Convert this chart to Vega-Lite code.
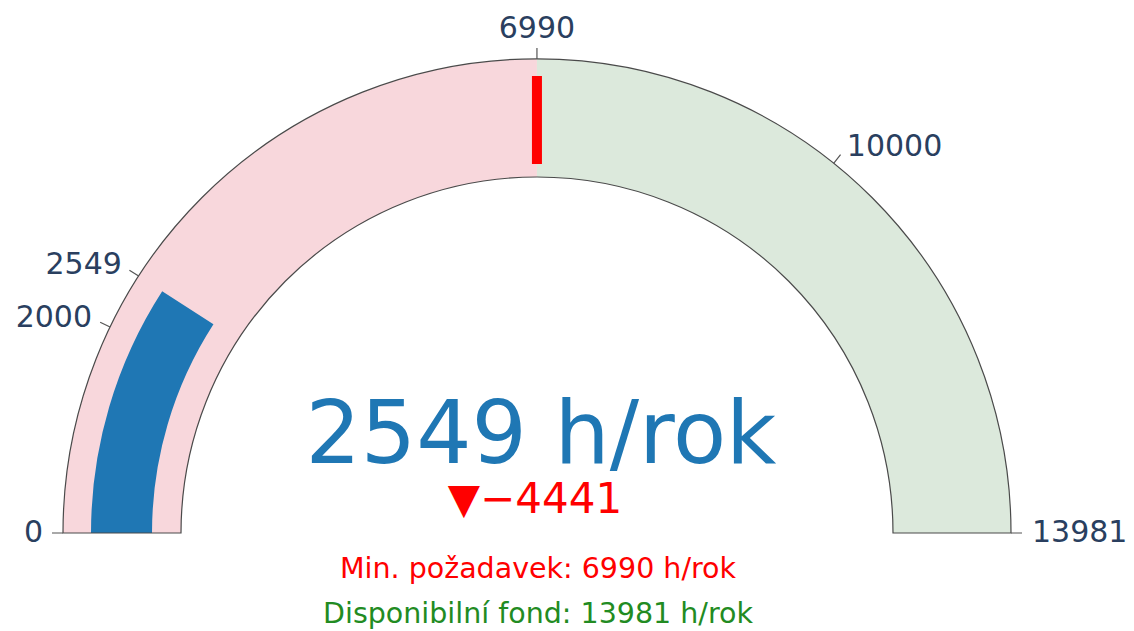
{
  "$schema": "https://vega.github.io/schema/vega-lite/v6.json",
  "width": 1134,
  "height": 631,
  "padding": 0,
  "autosize": {"type": "none"},
  "background": "white",
  "config": {"view": {"stroke": null}, "text": {"font": "DejaVu Sans"}},
  "datasets": {
    "steps": [
      {"from": 0, "to": 6990, "zone": "pod minimem"},
      {"from": 6990, "to": 13981, "zone": "nad minimem"}
    ],
    "range": [{"from": 0, "to": 13981}],
    "bar": [{"from": 0, "to": 2549}],
    "threshold": [{"value": 6990}],
    "ticks": [
      {"value": 0}, {"value": 2000}, {"value": 2549},
      {"value": 6990}, {"value": 10000}, {"value": 13981}
    ],
    "summary": [
      {"kind": "value", "label": "2549 h/rok"},
      {"kind": "delta", "label": "▼−4441"},
      {"kind": "min", "label": "Min. požadavek: 6990 h/rok"},
      {"kind": "fond", "label": "Disponibilní fond: 13981 h/rok"}
    ]
  },
  "encoding": {
    "x": {"datum": 0, "type": "quantitative", "scale": {"domain": [-537, 597], "nice": false, "zero": false}, "axis": null},
    "y": {"datum": 0, "type": "quantitative", "scale": {"domain": [-98, 533], "nice": false, "zero": false}, "axis": null}
  },
  "layer": [
    {
      "data": {"name": "steps"},
      "mark": {"type": "arc", "radius": 474, "radius2": 356},
      "encoding": {
        "theta": {"field": "from", "type": "quantitative", "stack": null, "scale": {"type": "linear", "domain": [0, 13981], "range": [-1.5707963267948966, 1.5707963267948966], "zero": false, "nice": false}},
        "theta2": {"field": "to"},
        "color": {"field": "zone", "type": "nominal", "scale": {"domain": ["pod minimem", "nad minimem"], "range": ["#f8d7dc", "#dce9dc"]}, "legend": null}
      }
    },
    {
      "data": {"name": "bar"},
      "mark": {"type": "arc", "radius": 446, "radius2": 385, "color": "#1f77b4"},
      "encoding": {
        "theta": {"field": "from", "type": "quantitative", "stack": null, "scale": {"type": "linear", "domain": [0, 13981], "range": [-1.5707963267948966, 1.5707963267948966], "zero": false, "nice": false}},
        "theta2": {"field": "to"}
      }
    },
    {
      "data": {"name": "range"},
      "mark": {"type": "arc", "radius": 474, "radius2": 356, "fillOpacity": 0, "stroke": "#4a4a4a", "strokeWidth": 1.2},
      "encoding": {
        "theta": {"field": "from", "type": "quantitative", "stack": null, "scale": {"type": "linear", "domain": [0, 13981], "range": [-1.5707963267948966, 1.5707963267948966], "zero": false, "nice": false}},
        "theta2": {"field": "to"}
      }
    },
    {
      "data": {"name": "threshold"},
      "mark": {"type": "arc", "radius": 457, "radius2": 369, "fillOpacity": 0, "stroke": "#ff0000", "strokeWidth": 10},
      "encoding": {
        "theta": {"field": "value", "type": "quantitative", "stack": null, "scale": {"type": "linear", "domain": [0, 13981], "range": [-1.5707963267948966, 1.5707963267948966], "zero": false, "nice": false}},
        "theta2": {"field": "value"}
      }
    },
    {
      "data": {"name": "ticks"},
      "mark": {"type": "arc", "radius": 485, "radius2": 474, "fillOpacity": 0, "stroke": "#555555", "strokeWidth": 1.2},
      "encoding": {
        "theta": {"field": "value", "type": "quantitative", "stack": null, "scale": {"type": "linear", "domain": [0, 13981], "range": [-1.5707963267948966, 1.5707963267948966], "zero": false, "nice": false}},
        "theta2": {"field": "value"}
      }
    },
    {
      "data": {"name": "ticks"},
      "transform": [{"filter": "datum.value < 6000"}],
      "mark": {"type": "text", "radius": 494, "align": "right", "baseline": "middle", "fontSize": 30, "color": "#2a3f5f"},
      "encoding": {
        "theta": {"field": "value", "type": "quantitative", "stack": null, "scale": {"type": "linear", "domain": [0, 13981], "range": [-1.5707963267948966, 1.5707963267948966], "zero": false, "nice": false}},
        "text": {"field": "value", "type": "quantitative", "format": "d"}
      }
    },
    {
      "data": {"name": "ticks"},
      "transform": [{"filter": "datum.value == 6990"}],
      "mark": {"type": "text", "radius": 495, "align": "center", "baseline": "alphabetic", "fontSize": 30, "color": "#2a3f5f"},
      "encoding": {
        "theta": {"field": "value", "type": "quantitative", "stack": null, "scale": {"type": "linear", "domain": [0, 13981], "range": [-1.5707963267948966, 1.5707963267948966], "zero": false, "nice": false}},
        "text": {"field": "value", "type": "quantitative", "format": "d"}
      }
    },
    {
      "data": {"name": "ticks"},
      "transform": [{"filter": "datum.value > 7000"}],
      "mark": {"type": "text", "radius": 495, "align": "left", "baseline": "middle", "fontSize": 30, "color": "#2a3f5f"},
      "encoding": {
        "theta": {"field": "value", "type": "quantitative", "stack": null, "scale": {"type": "linear", "domain": [0, 13981], "range": [-1.5707963267948966, 1.5707963267948966], "zero": false, "nice": false}},
        "text": {"field": "value", "type": "quantitative", "format": "d"}
      }
    },
    {
      "data": {"name": "summary"},
      "transform": [{"filter": "datum.kind == 'value'"}],
      "mark": {"type": "text", "align": "center", "baseline": "alphabetic", "fontSize": 87, "dx": 4, "dy": -70, "color": "#1f77b4"},
      "encoding": {"text": {"field": "label"}}
    },
    {
      "data": {"name": "summary"},
      "transform": [{"filter": "datum.kind == 'delta'"}],
      "mark": {"type": "text", "align": "center", "baseline": "alphabetic", "fontSize": 42, "dx": -2, "dy": -20, "color": "#ff0000"},
      "encoding": {"text": {"field": "label"}}
    },
    {
      "data": {"name": "summary"},
      "transform": [{"filter": "datum.kind == 'min'"}],
      "mark": {"type": "text", "align": "center", "baseline": "alphabetic", "fontSize": 28.5, "dx": 1, "dy": 45, "color": "#ff0000"},
      "encoding": {"text": {"field": "label"}}
    },
    {
      "data": {"name": "summary"},
      "transform": [{"filter": "datum.kind == 'fond'"}],
      "mark": {"type": "text", "align": "center", "baseline": "alphabetic", "fontSize": 28.5, "dx": 1, "dy": 90, "color": "#228b22"},
      "encoding": {"text": {"field": "label"}}
    }
  ]
}
